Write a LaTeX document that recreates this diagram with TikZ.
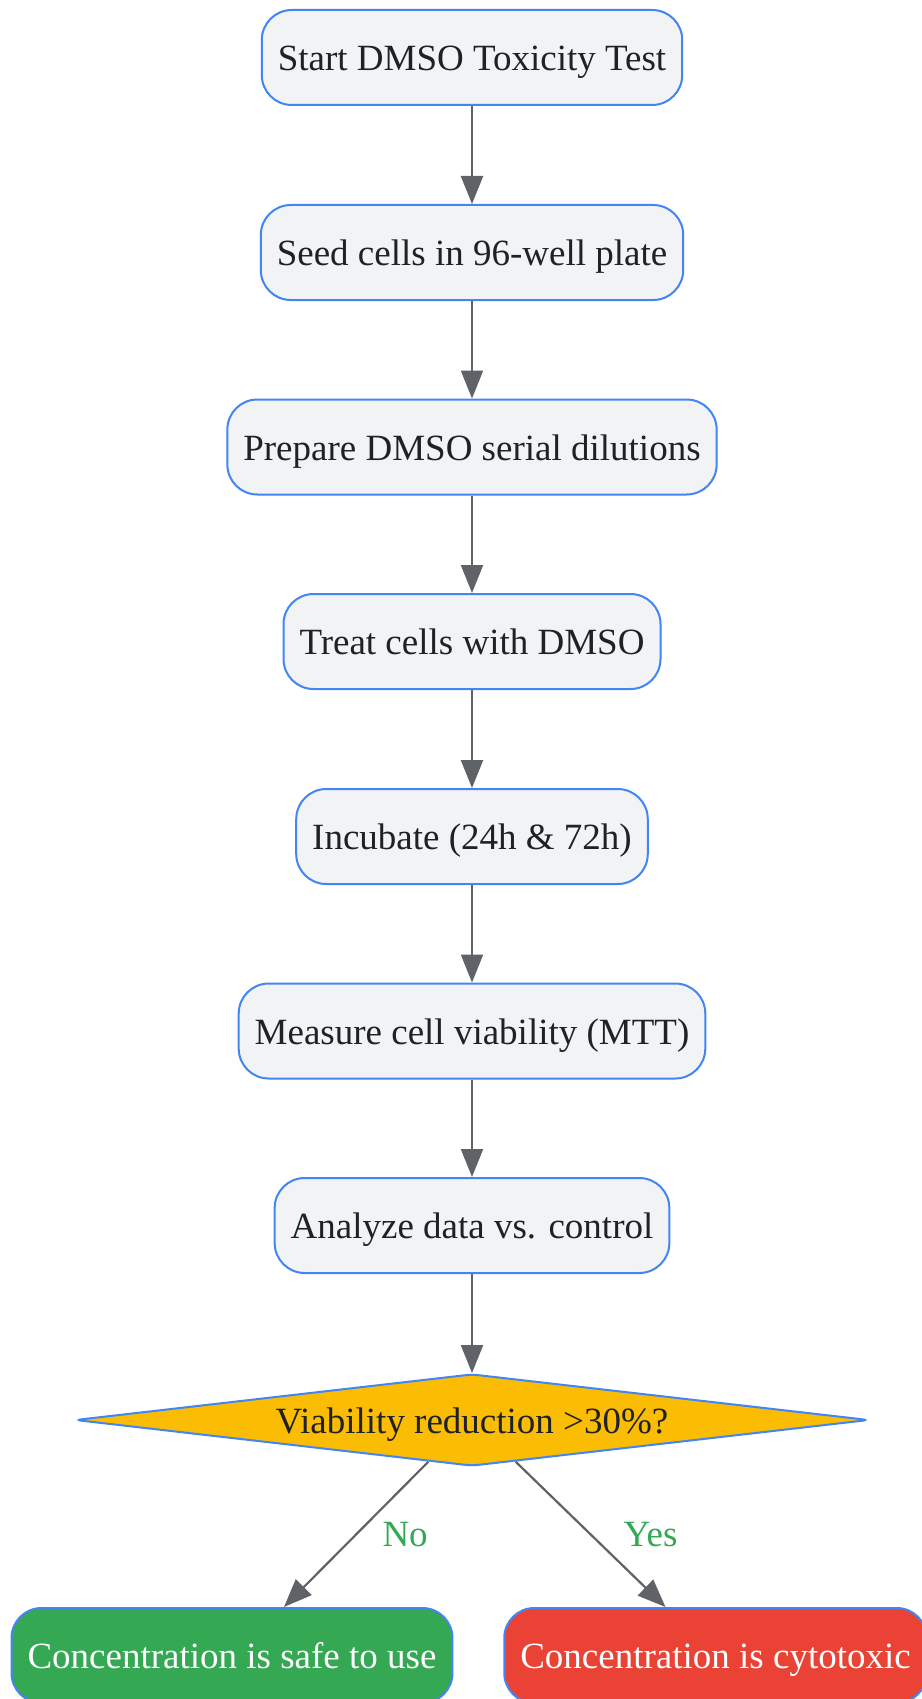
\documentclass[tikz,border=0pt]{standalone}
\usepackage{fontspec}
\setmainfont{Liberation Serif}
\usepackage{tikz}
\usetikzlibrary{calc}
\usetikzlibrary{arrows.meta}
\usetikzlibrary{shapes.geometric}

\definecolor{boxfill}{HTML}{F1F3F5}
\definecolor{boxline}{HTML}{4285F4}
\definecolor{arrowgray}{HTML}{5F6368}
\definecolor{textdark}{HTML}{202124}
\definecolor{decfill}{HTML}{FBBC04}
\definecolor{safegreen}{HTML}{34A853}
\definecolor{toxred}{HTML}{EA4335}

\tikzset{
  stepbox/.style={draw=boxline, fill=boxfill, line width=2pt, rounded corners=30pt,
    minimum height=95pt, inner xsep=16pt, text height=26pt, text depth=0pt,
    text=textdark, font=\fontsize{37}{44}\selectfont},
  decbox/.style={diamond, aspect=8.63, draw=boxline, fill=decfill, line width=2pt, rounded corners=6pt,
    minimum width=794pt, minimum height=92pt, inner sep=0pt, text height=26pt, text depth=0pt,
    text=textdark, font=\fontsize{37}{44}\selectfont},
  endbox/.style={stepbox, text=white},
  flow/.style={draw=arrowgray, line width=2.2pt, -{Triangle[length=28pt,width=22pt]}},
  answer/.style={text=safegreen, font=\fontsize{37}{44}\selectfont, inner sep=0pt}
}

\begin{document}
\begin{tikzpicture}[x=1pt, y=-1pt]
            % Page frame
            \fill[white] (0,0) rectangle (921,1699);
            \useasboundingbox (0,0) rectangle (921,1699);

            % Steps of the test
            \node[stepbox] (start) at (472,57.5) {Start DMSO Toxicity Test};
            \node[stepbox] (seed) at (472,252.5) {Seed cells in 96-well plate};
            \node[stepbox] (dilute) at (472,447) {Prepare DMSO serial dilutions};
            \node[stepbox] (treat) at (472,641.5) {Treat cells with DMSO};
            \node[stepbox] (incubate) at (472,836.5) {Incubate (24h \& 72h)};
            \node[stepbox] (measure) at (472,1031) {Measure cell viability (MTT)};
            \node[stepbox] (analyze) at (472,1225.5) {Analyze data vs. control};

            % Decision
            \node[decbox] (check) at (472,1420) {Viability reduction >30\%?};

            % Outcomes
            \node[endbox, fill=safegreen] (safe) at (232,1655.5) {Concentration is safe to use};
            \node[endbox, fill=toxred] (toxic) at (715.5,1655.5) {Concentration is cytotoxic};

            % Connectors down the column
            \draw[flow] (start) -- (seed);
            \draw[flow] (seed) -- (dilute);
            \draw[flow] (dilute) -- (treat);
            \draw[flow] (treat) -- (incubate);
            \draw[flow] (incubate) -- (measure);
            \draw[flow] (measure) -- (analyze);
            \draw[flow] (analyze) -- (check);

            % Branches of the decision
            \draw[flow] ($(check.south)!0.11!(check.west)$) -- node[answer, midway, xshift=49pt] {No} ($(safe.north)+(52,0)$);
            \draw[flow] ($(check.south)!0.11!(check.east)$) -- node[answer, midway, xshift=60pt] {Yes} ($(toxic.north)+(-50,0)$);
\end{tikzpicture}
\end{document}
